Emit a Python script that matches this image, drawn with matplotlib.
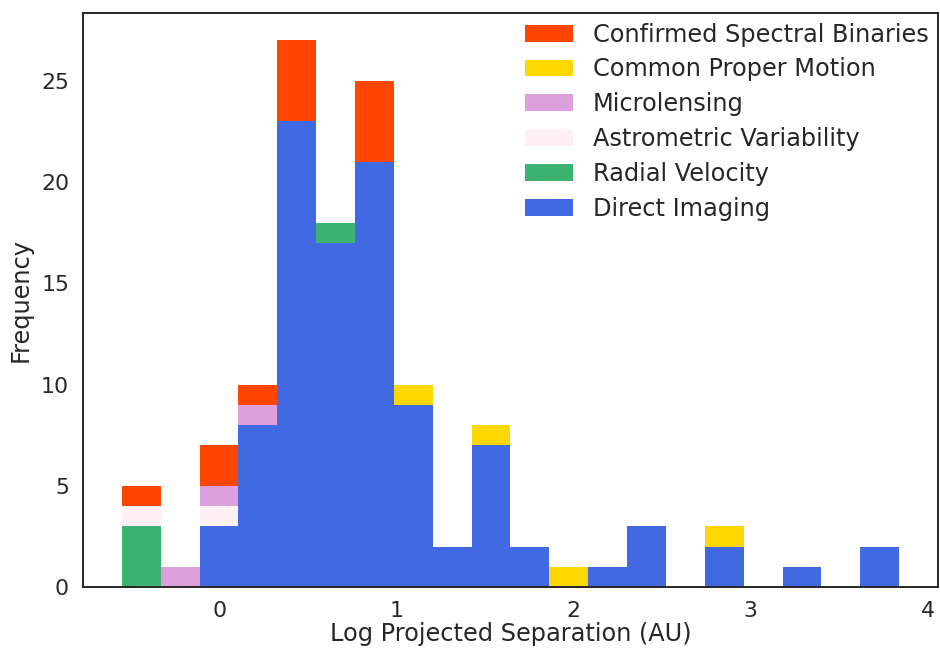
import numpy as np
import matplotlib
matplotlib.use("Agg")
import matplotlib.pyplot as plt

# Histogram bins (log projected separation, AU)
bin_lo = -0.552
bin_hi = 3.84
n_bins = 20

categories = ["Direct Imaging", "Radial Velocity", "Astrometric Variability",
              "Microlensing", "Common Proper Motion", "Confirmed Spectral Binaries"]
colors = ["royalblue", "mediumseagreen", "lavenderblush", "plum", "gold", "orangered"]

direct_imaging = [0, 0, 3, 8, 23, 17, 21, 9, 2, 7, 2, 0, 1, 3, 0, 2, 0, 1, 0, 2]
radial_velocity = [3, 0, 0, 0, 0, 1, 0, 0, 0, 0, 0, 0, 0, 0, 0, 0, 0, 0, 0, 0]
astrometric_var = [1, 0, 1, 0, 0, 0, 0, 0, 0, 0, 0, 0, 0, 0, 0, 0, 0, 0, 0, 0]
microlensing = [0, 1, 1, 1, 0, 0, 0, 0, 0, 0, 0, 0, 0, 0, 0, 0, 0, 0, 0, 0]
common_pm = [0, 0, 0, 0, 0, 0, 0, 1, 0, 1, 0, 1, 0, 0, 0, 1, 0, 0, 0, 0]
spectral_bin = [1, 0, 2, 1, 4, 0, 4, 0, 0, 0, 0, 0, 0, 0, 0, 0, 0, 0, 0, 0]

series = [direct_imaging, radial_velocity, astrometric_var, microlensing, common_pm, spectral_bin]

edges = np.linspace(bin_lo, bin_hi, n_bins + 1)
centers = 0.5 * (edges[:-1] + edges[1:])

plt.rcParams['font.family'] = ['DejaVu Sans']
text_color = '#262626'
plt.rcParams['text.color'] = text_color
plt.rcParams['axes.labelcolor'] = text_color
plt.rcParams['xtick.color'] = text_color
plt.rcParams['ytick.color'] = text_color

fig = plt.figure(figsize=(9.4, 6.5), dpi=100)
ax = fig.add_axes([83/940, (650-587)/650, (938-83)/940, (587-13)/650])

ax.hist([centers] * len(series), bins=edges, weights=series, stacked=True,
        color=colors, label=categories, histtype='bar', rwidth=1.0)

for s in ax.spines.values():
    s.set_color(text_color)
    s.set_linewidth(1.4)

ax.set_xticks([0, 1, 2, 3, 4])
ax.set_yticks([0, 5, 10, 15, 20, 25])
ax.tick_params(labelsize=15.84, length=0, pad=10)
ax.set_xlabel("Log Projected Separation (AU)", fontsize=17.28, labelpad=1.0)
ax.set_ylabel("Frequency", fontsize=17.28, labelpad=5.8)

handles, labels = ax.get_legend_handles_labels()
ax.legend(handles[::-1], labels[::-1], loc='upper right', frameon=False,
          fontsize=17.28, borderaxespad=0.0, labelspacing=0.45)

fig.savefig("out.png", dpi=100)
